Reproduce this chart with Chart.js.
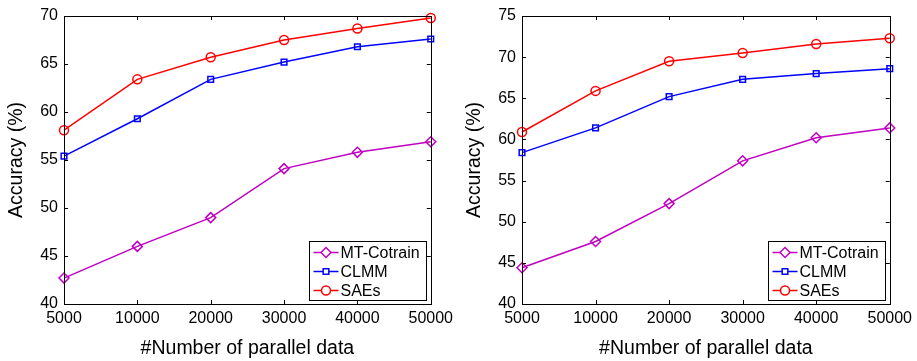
<!DOCTYPE html>
<html>
<head>
<meta charset="utf-8">
<script src="https://cdn.jsdelivr.net/npm/chart.js@4.4.1/dist/chart.umd.min.js"></script>
<style>
  html, body { margin: 0; padding: 0; background: #fff; }
  #wrap { position: relative; width: 917px; height: 361px; }
  .panel { position: absolute; top: 0; height: 361px; }
  #left-panel { left: 0; width: 458px; }
  #right-panel { left: 458px; width: 459px; }
</style>
</head>
<body>
<div id="wrap">
  <div class="panel" id="left-panel"><canvas id="left-chart"></canvas></div>
  <div class="panel" id="right-panel"><canvas id="right-chart"></canvas></div>
</div>
<script>
// ===== Data =====
const parallelSizes = ['5000', '10000', '20000', '30000', '40000', '50000'];
const seriesNames = ['MT-Cotrain', 'CLMM', 'SAEs'];

const leftMtCotrain = [42.7, 46.0, 49.0, 54.1, 55.8, 56.9];
const leftClmm = [55.4, 59.3, 63.4, 65.2, 66.8, 67.6];
const leftSaes = [58.1, 63.4, 65.7, 67.5, 68.7, 69.8];
const leftTicks = [40, 45, 50, 55, 60, 65, 70];

const rightMtCotrain = [44.4, 47.6, 52.2, 57.4, 60.2, 61.4];
const rightClmm = [58.4, 61.4, 65.2, 67.3, 68.0, 68.6];
const rightSaes = [60.9, 65.9, 69.5, 70.5, 71.6, 72.3];
const rightTicks = [40, 45, 50, 55, 60, 65, 70, 75];

const seriesColors = ['#c000c0', '#0000ff', '#ff0000'];
const seriesMarkers = ['rectRot', 'rect', 'circle'];
const markerRadius = [5, 4, 4.5];

const FONT = 'Liberation Sans, Arial, sans-serif';

// ===== Plugins =====
// box round the plot, inward ticks on all four sides, legend in lower right
const matlabFrame = {
  id: 'matlabFrame',
  afterDatasetsDraw(chart) {
    const { ctx, chartArea: area, scales } = chart;
    const tickLen = 4;
    ctx.save();
    ctx.strokeStyle = '#000';
    ctx.lineWidth = 1;

    ctx.beginPath();
    scales.x.ticks.forEach((tick, index) => {
      const px = Math.round(scales.x.getPixelForTick(index)) + 0.5;
      ctx.moveTo(px, area.bottom);
      ctx.lineTo(px, area.bottom - tickLen);
      ctx.moveTo(px, area.top);
      ctx.lineTo(px, area.top + tickLen);
    });
    scales.y.ticks.forEach((tick) => {
      const py = Math.round(scales.y.getPixelForValue(tick.value)) + 0.5;
      ctx.moveTo(area.left, py);
      ctx.lineTo(area.left + tickLen, py);
      ctx.moveTo(area.right, py);
      ctx.lineTo(area.right - tickLen, py);
    });
    ctx.stroke();

    ctx.strokeRect(Math.round(area.left) + 0.5, Math.round(area.top) + 0.5,
      Math.round(area.right - area.left), Math.round(area.bottom - area.top));

    // legend
    const boxW = 117;
    const boxH = 59;
    const boxX = Math.round(area.right - 5 - boxW) + 0.5;
    const boxY = Math.round(area.bottom - 4 - boxH) + 0.5;
    ctx.fillStyle = '#fff';
    ctx.fillRect(boxX, boxY, boxW, boxH);
    ctx.strokeRect(boxX, boxY, boxW, boxH);

    ctx.font = `16px ${FONT}`;
    ctx.textBaseline = 'middle';
    chart.data.datasets.forEach((dataset, index) => {
      const rowY = boxY + 11 + index * 19;
      const lineX0 = boxX + 4;
      const lineX1 = boxX + 29;
      ctx.strokeStyle = dataset.borderColor;
      ctx.lineWidth = 1.5;
      ctx.beginPath();
      ctx.moveTo(lineX0, rowY);
      ctx.lineTo(lineX1, rowY);
      ctx.stroke();
      ctx.fillStyle = '#fff';
      Chart.helpers.drawPoint(ctx, {
        pointStyle: dataset.pointStyle,
        radius: dataset.pointRadius,
        rotation: 0,
        borderWidth: 1.5,
      }, (lineX0 + lineX1) / 2, rowY);
      ctx.fillStyle = '#000';
      ctx.fillText(dataset.label, boxX + 31, rowY + 1);
    });
    ctx.restore();
  },
};

// ===== Chart Rendering =====
function buildDatasets(valueLists) {
  return valueLists.map((values, index) => ({
    label: seriesNames[index],
    data: values,
    borderColor: seriesColors[index],
    backgroundColor: 'rgba(0,0,0,0)',
    borderWidth: 1.5,
    pointStyle: seriesMarkers[index],
    pointRadius: markerRadius[index],
    pointBorderWidth: 1.5,
    pointBackgroundColor: 'rgba(0,0,0,0)',
    tension: 0,
    clip: false,
  }));
}

function createAccuracyChart(canvasId, valueLists, yTicks) {
  const canvas = document.getElementById(canvasId);
  return new Chart(canvas, {
    type: 'line',
    data: {
      labels: parallelSizes,
      datasets: buildDatasets(valueLists),
    },
    options: {
      responsive: true,
      maintainAspectRatio: false,
      animation: false,
      layout: { padding: { top: 16, right: 25, left: 0, bottom: 0 } },
      plugins: {
        legend: { display: false },
        tooltip: { enabled: false },
      },
      scales: {
        x: {
          type: 'category',
          offset: false,
          grid: { display: false, drawTicks: false },
          border: { display: false },
          ticks: {
            color: '#000',
            padding: 5,
            maxRotation: 0,
            autoSkip: false,
            font: { family: FONT, size: 16 },
          },
          title: {
            display: true,
            text: '#Number of parallel data',
            color: '#000',
            padding: { top: 0, bottom: 1 },
            font: { family: FONT, size: 19.5 },
          },
          afterFit(scale) { scale.height = 57; },
        },
        y: {
          min: yTicks[0],
          max: yTicks[yTicks.length - 1],
          grid: { display: false, drawTicks: false },
          border: { display: false },
          afterBuildTicks(scale) {
            scale.ticks = yTicks.map((value) => ({ value }));
          },
          ticks: {
            color: '#000',
            padding: 6,
            font: { family: FONT, size: 16 },
          },
          title: {
            display: true,
            text: 'Accuracy (%)',
            color: '#000',
            padding: { top: 5, bottom: 0 },
            font: { family: FONT, size: 19.5 },
          },
          afterFit(scale) { scale.width = 64; },
        },
      },
    },
    plugins: [matlabFrame],
  });
}

createAccuracyChart('left-chart', [leftMtCotrain, leftClmm, leftSaes], leftTicks);
createAccuracyChart('right-chart', [rightMtCotrain, rightClmm, rightSaes], rightTicks);
</script>
</body>
</html>
